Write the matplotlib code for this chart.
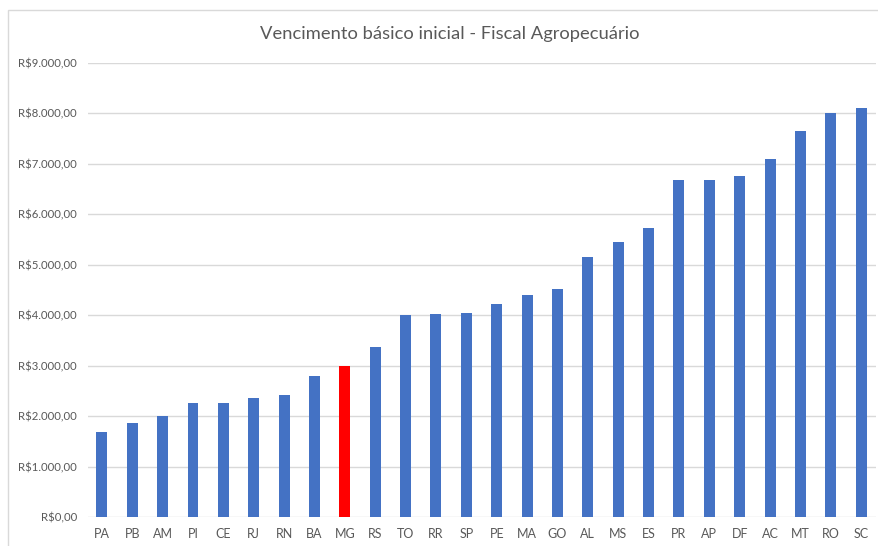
import numpy as np
import matplotlib
matplotlib.use("Agg")
import matplotlib.pyplot as plt
from matplotlib.ticker import FuncFormatter

estados = ['PA', 'PB', 'AM', 'PI', 'CE', 'RJ', 'RN', 'BA', 'MG', 'RS', 'TO', 'RR', 'SP',
           'PE', 'MA', 'GO', 'AL', 'MS', 'ES', 'PR', 'AP', 'DF', 'AC', 'MT', 'RO', 'SC']
vencimento = [1690, 1860, 2012, 2250, 2256, 2367, 2427, 2797, 2983, 3371, 3995, 4015, 4034,
              4218, 4391, 4510, 5145, 5449, 5734, 6679, 6679, 6752, 7090, 7651, 8002, 8101]
destaque = 'MG'

plt.rcParams['font.family'] = ['Lato', 'DejaVu Sans']

cores = ['#FF0000' if e == destaque else '#4472C4' for e in estados]

fig = plt.figure(figsize=(8.79, 5.46), dpi=100)
ax = fig.add_axes([0.100, 0.053, 0.897, 0.832])

x = np.arange(len(estados))
ax.bar(x, vencimento, width=0.36, color=cores, zorder=3)

def reais(v, pos):
    s = '{:,.2f}'.format(v)
    s = s.replace(',', 'X').replace('.', ',').replace('X', '.')
    return 'R$' + s

ax.set_ylim(0, 9000)
ax.set_yticks(np.arange(0, 9001, 1000))
ax.yaxis.set_major_formatter(FuncFormatter(reais))
ax.set_xlim(-0.46, len(estados) - 0.5)
ax.set_xticks(x)
ax.set_xticklabels(estados)
ax.grid(axis='y', color='#D9D9D9', lw=1, zorder=0)
ax.tick_params(axis='both', length=0, labelsize=8.2, colors='#595959')
ax.tick_params(axis='x', labelsize=9, pad=8)
ax.tick_params(axis='y', pad=8)
for s in ax.spines.values():
    s.set_visible(False)

fig.text(0.512, 0.938, 'Vencimento básico inicial - Fiscal Agropecuário',
         ha='center', va='center', fontsize=13.2, color='#595959')

# chart border
fig.patches.append(plt.Rectangle((0.009, -0.01), 1.2, 0.992, transform=fig.transFigure,
                                 fill=False, edgecolor='#D9D9D9', lw=1))

fig.savefig('out.png', dpi=100)
